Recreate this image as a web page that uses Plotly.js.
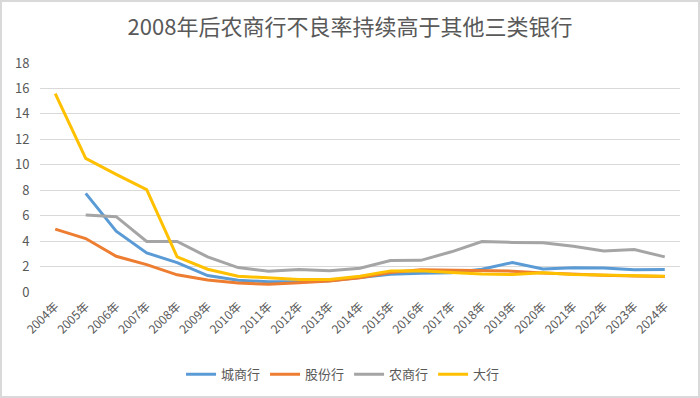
<!DOCTYPE html>
<html>
<head>
<meta charset="utf-8">
<script src="https://cdn.plot.ly/plotly-3.0.1.min.js"></script>
<style>
html,body{margin:0;padding:0;background:#fff;}
#chart{width:700px;height:398px;box-sizing:border-box;border:2px solid #d9d9d9;}
</style>
</head>
<body>
<div id="chart"></div>
<script>
const years = ["2004年","2005年","2006年","2007年","2008年","2009年","2010年","2011年","2012年","2013年","2014年","2015年","2016年","2017年","2018年","2019年","2020年","2021年","2022年","2023年","2024年"];
const cityBanks =   [null, 7.75, 4.78, 3.07, 2.31, 1.29, 0.92, 0.80, 0.81, 0.88, 1.16, 1.40, 1.48, 1.52, 1.79, 2.32, 1.81, 1.90, 1.89, 1.75, 1.76];
const jointStock =  [4.94, 4.20, 2.81, 2.15, 1.35, 0.95, 0.70, 0.60, 0.72, 0.86, 1.12, 1.53, 1.74, 1.71, 1.71, 1.64, 1.50, 1.38, 1.32, 1.26, 1.22];
const ruralBanks =  [null, 6.05, 5.92, 3.97, 3.97, 2.76, 1.92, 1.63, 1.76, 1.67, 1.87, 2.48, 2.49, 3.16, 3.96, 3.90, 3.88, 3.60, 3.23, 3.34, 2.76];
const bigBanks =    [15.6, 10.5, 9.25, 8.05, 2.76, 1.79, 1.24, 1.10, 0.99, 0.98, 1.23, 1.66, 1.68, 1.53, 1.41, 1.38, 1.52, 1.37, 1.31, 1.26, 1.24];
const seriesNames = ["城商行","股份行","农商行","大行"];
const seriesColors = ["#5b9bd5","#ed7d31","#a5a5a5","#ffc000"];
const seriesData = [cityBanks, jointStock, ruralBanks, bigBanks];

const FONT = '"Noto Sans CJK SC", "Noto Sans", sans-serif';
const traces = seriesData.map((d,i)=>({
  type:'scatter', mode:'lines', x:years, y:d, name:seriesNames[i],
  line:{color:seriesColors[i], width:3}, connectgaps:false
}));

const layout = {
  width:696, height:394,
  margin:{l:38, r:18, t:61, b:104},
  paper_bgcolor:'#fff', plot_bgcolor:'#fff',
  font:{family:FONT, color:'#595959', size:12},
  title:{text:'2008年后农商行不良率持续高于其他三类银行', x:0.5, xanchor:'center', y:0.935, yanchor:'middle', font:{size:22, color:'#595959', family:FONT}},
  xaxis:{type:'category', range:[-0.5, 20.5], tickangle:-45, showgrid:false, showline:false, zeroline:false, ticks:'', ticklabelstandoff:4, tickfont:{size:12, color:'#595959'}},
  yaxis:{range:[0,18], dtick:2, tick0:0, showgrid:true, gridcolor:'#d9d9d9', gridwidth:1, zeroline:false, showline:false, ticks:'outside', ticklen:7, tickcolor:'rgba(0,0,0,0)', tickfont:{size:13, color:'#595959'}, fixedrange:true},
  showlegend:true,
  legend:{orientation:'h', xref:'container', x:0.49, xanchor:'center', yref:'container', y:0.055, yanchor:'middle', font:{size:13, color:'#595959'}, itemwidth:30, tracegroupgap:0},
};
Plotly.newPlot('chart', traces, layout, {displayModeBar:false, staticPlot:true});
</script>
</body>
</html>
